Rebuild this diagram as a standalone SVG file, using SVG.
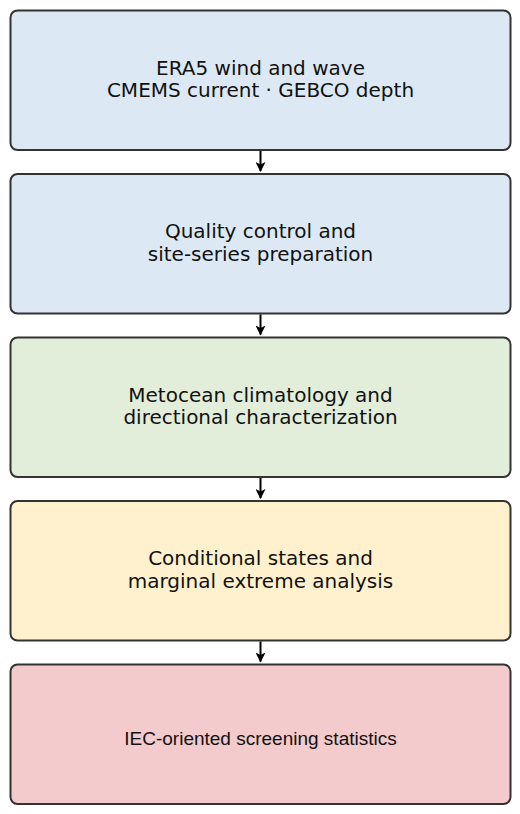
<svg xmlns="http://www.w3.org/2000/svg" width="520" height="814" viewBox="0 0 520 814">
<style>
.box{stroke:#333;stroke-width:2}
.t{font-family:"DejaVu Sans",sans-serif;font-size:20px;fill:#111;text-anchor:middle}
.ta{font-family:"Liberation Sans",Arial,sans-serif;font-size:19px;fill:#111;text-anchor:middle}
.c{stroke:#000;stroke-width:2;fill:none}
</style>
<defs>
<marker id="ah" viewBox="0 0 10 10" refX="9" refY="5" markerWidth="5" markerHeight="5" orient="auto" markerUnits="strokeWidth">
<path d="M0,0 L10,5 L0,10 L2.5,5 z" fill="#000"/>
</marker>
</defs>
<g id="n1"><rect class="box" x="10.5" y="10.5" width="500" height="139.5" rx="7" fill="#dce9f5"/>
<text class="t" x="260.5" y="74.5">ERA5 wind and wave</text>
<text class="t" x="260.5" y="97">CMEMS current · GEBCO depth</text></g>
<g id="n2"><rect class="box" x="10.5" y="174" width="500" height="139.5" rx="7" fill="#dce9f5"/>
<text class="t" x="260.5" y="238">Quality control and</text>
<text class="t" x="260.5" y="260.5">site-series preparation</text></g>
<g id="n3"><rect class="box" x="10.5" y="337.5" width="500" height="139.5" rx="7" fill="#e2eed9"/>
<text class="t" x="260.5" y="401.5">Metocean climatology and</text>
<text class="t" x="260.5" y="424">directional characterization</text></g>
<g id="n4"><rect class="box" x="10.5" y="501" width="500" height="139.5" rx="7" fill="#fff1cd"/>
<text class="t" x="260.5" y="565">Conditional states and</text>
<text class="t" x="260.5" y="587.5">marginal extreme analysis</text></g>
<g id="n5"><rect class="box" x="10.5" y="664.5" width="500" height="139.5" rx="7" fill="#f4cbcc"/>
<text class="ta" x="260.5" y="745">IEC-oriented screening statistics</text></g>
<g id="connectors">
<line class="c" x1="260.5" y1="151" x2="260.5" y2="171" marker-end="url(#ah)"/>
<line class="c" x1="260.5" y1="314.5" x2="260.5" y2="334.5" marker-end="url(#ah)"/>
<line class="c" x1="260.5" y1="478" x2="260.5" y2="498" marker-end="url(#ah)"/>
<line class="c" x1="260.5" y1="641.5" x2="260.5" y2="661.5" marker-end="url(#ah)"/>
</g>
</svg>
